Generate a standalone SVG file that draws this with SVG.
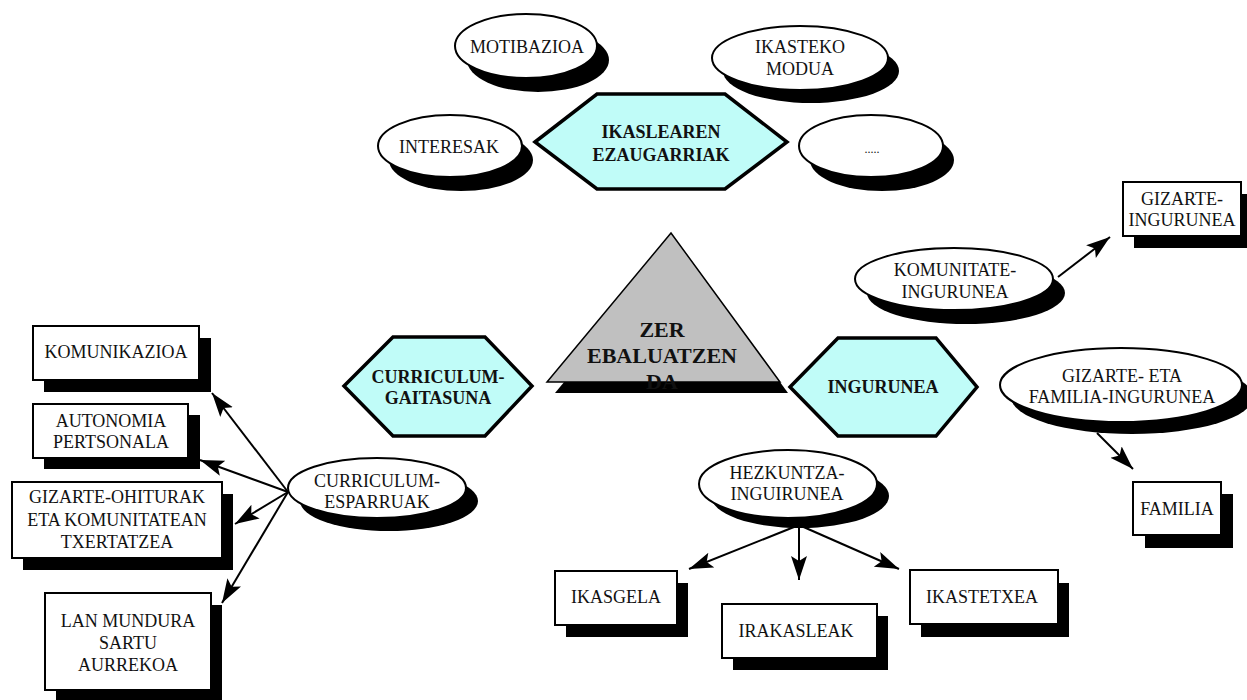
<svg xmlns="http://www.w3.org/2000/svg" width="1247" height="700" viewBox="0 0 1247 700">
<defs>
<style>
text{font-family:"Liberation Serif","Times New Roman",serif;font-size:18px;fill:#111;text-anchor:middle}
.b{font-weight:bold}
.hex{fill:#c0fcf8;stroke:#000;stroke-width:3.5;stroke-linejoin:miter}
.ell{fill:#fff;stroke:#000;stroke-width:2}
.box{fill:#fff;stroke:#000;stroke-width:2}
.sh{fill:#000}
.con line{stroke:#000;stroke-width:2}
</style>
<marker id="ah" markerUnits="userSpaceOnUse" markerWidth="26" markerHeight="18" refX="24" refY="8" orient="auto">
<path d="M0,0 L24,8 L0,16 L5,8 z" fill="#000"/>
</marker>
</defs>
<rect width="1247" height="700" fill="#fff"/>

<g id="n-motibazioa">
<ellipse class="sh" cx="538" cy="60" rx="71" ry="32"/>
<ellipse class="ell" cx="526" cy="46" rx="71" ry="32"/>
<text x="527" y="53">MOTIBAZIOA</text>
</g>
<g id="n-ikasteko">
<ellipse class="sh" cx="811" cy="71" rx="88" ry="32"/>
<ellipse class="ell" cx="800" cy="58" rx="88" ry="32"/>
<text x="800" y="53">IKASTEKO</text>
<text x="800" y="75">MODUA</text>
</g>
<g id="n-interesak">
<ellipse class="sh" cx="461" cy="160" rx="72" ry="31"/>
<ellipse class="ell" cx="450" cy="146" rx="72" ry="31"/>
<text x="449" y="153">INTERESAK</text>
</g>
<g id="n-dots">
<ellipse class="sh" cx="882" cy="160" rx="72" ry="31"/>
<ellipse class="ell" cx="871" cy="146" rx="72" ry="31"/>
<text x="872" y="153" style="font-size:12px">.....</text>
</g>
<g id="n-ikaslearen">
<polygon class="hex" points="535,142 597,94 725,94 787,142 725,189 597,189"/>
<text class="b" x="661" y="138">IKASLEAREN</text>
<text class="b" x="661" y="161">EZAUGARRIAK</text>
</g>

<g id="n-zer">
<polygon class="sh" points="679,244 788,393 555,393"/>
<polygon points="671,233 780,382 547,382" fill="#c0c0c0" stroke="#000" stroke-width="1.5"/>
<text class="b" x="662" y="337" style="font-size:22px">ZER</text>
<text class="b" x="662" y="363" style="font-size:22px">EBALUATZEN</text>
<text class="b" x="662" y="389" style="font-size:22px">DA</text>
</g>

<g id="n-curriculum-gaitasuna">
<polygon class="hex" points="344,386 393,337 485,337 532,386 485,436 393,436"/>
<text class="b" x="438" y="383">CURRICULUM-</text>
<text class="b" x="438" y="404">GAITASUNA</text>
</g>
<g id="n-ingurunea">
<polygon class="hex" points="790,387 838,338 936,338 977,387 936,436 838,436"/>
<text class="b" x="883" y="393">INGURUNEA</text>
</g>

<g id="n-komunitate">
<ellipse class="sh" cx="966" cy="293" rx="99" ry="31"/>
<ellipse class="ell" cx="954" cy="279" rx="99" ry="31"/>
<text x="955" y="276">KOMUNITATE-</text>
<text x="955" y="298">INGURUNEA</text>
</g>
<g id="n-gizarte-ingurunea">
<rect class="sh" x="1134" y="194" width="118" height="54"/>
<rect class="box" x="1123" y="182" width="118" height="54"/>
<text x="1182" y="205">GIZARTE-</text>
<text x="1182" y="226">INGURUNEA</text>
</g>
<g id="n-gizarte-familia">
<ellipse class="sh" cx="1132" cy="397" rx="121" ry="37"/>
<ellipse class="ell" cx="1121" cy="385" rx="121" ry="37"/>
<text x="1122" y="382">GIZARTE- ETA</text>
<text x="1122" y="403">FAMILIA-INGURUNEA</text>
</g>
<g id="n-familia">
<rect class="sh" x="1145" y="494" width="88" height="54"/>
<rect class="box" x="1133" y="482" width="88" height="53"/>
<text x="1177" y="515">FAMILIA</text>
</g>

<g id="n-hezkuntza">
<ellipse class="sh" cx="800" cy="496" rx="89" ry="32"/>
<ellipse class="ell" cx="788" cy="484" rx="89" ry="34"/>
<text x="787" y="479">HEZKUNTZA-</text>
<text x="787" y="500">INGUIRUNEA</text>
</g>
<g id="n-ikasgela">
<rect class="sh" x="566" y="583" width="122" height="54"/>
<rect class="box" x="555" y="571" width="122" height="54"/>
<text x="616" y="603">IKASGELA</text>
</g>
<g id="n-irakasleak">
<rect class="sh" x="733" y="616" width="155" height="54"/>
<rect class="box" x="722" y="604" width="155" height="54"/>
<text x="796" y="637">IRAKASLEAK</text>
</g>
<g id="n-ikastetxea">
<rect class="sh" x="921" y="583" width="148" height="54"/>
<rect class="box" x="910" y="570" width="148" height="54"/>
<text x="982" y="603">IKASTETXEA</text>
</g>

<g id="n-curriculum-esparruak">
<ellipse class="sh" cx="389" cy="501" rx="89" ry="30"/>
<ellipse class="ell" cx="377" cy="488" rx="89" ry="30"/>
<text x="377" y="487">CURRICULUM-</text>
<text x="377" y="508">ESPARRUAK</text>
</g>
<g id="n-komunikazioa">
<rect class="sh" x="44" y="338" width="167" height="54"/>
<rect class="box" x="33" y="326" width="166" height="54"/>
<text x="116" y="358">KOMUNIKAZIOA</text>
</g>
<g id="n-autonomia">
<rect class="sh" x="44" y="415" width="156" height="54"/>
<rect class="box" x="33" y="404" width="155" height="54"/>
<text x="111" y="427">AUTONOMIA</text>
<text x="111" y="448">PERTSONALA</text>
</g>
<g id="n-gizarte-ohiturak">
<rect class="sh" x="23" y="494" width="210" height="76"/>
<rect class="box" x="12" y="482" width="210" height="76"/>
<text x="117" y="503">GIZARTE-OHITURAK</text>
<text x="117" y="526">ETA KOMUNITATEAN</text>
<text x="117" y="548">TXERTATZEA</text>
</g>
<g id="n-lan-mundura">
<rect class="sh" x="56" y="605" width="166" height="98"/>
<rect class="box" x="45" y="593" width="166" height="97"/>
<text x="128" y="627">LAN MUNDURA</text>
<text x="128" y="649">SARTU</text>
<text x="128" y="671">AURREKOA</text>
</g>

<g id="connectors" class="con">
<line x1="1058" y1="277" x2="1110" y2="237" marker-end="url(#ah)"/>
<line x1="1097" y1="433" x2="1133" y2="469" marker-end="url(#ah)"/>
<line x1="799" y1="525" x2="689" y2="569" marker-end="url(#ah)"/>
<line x1="799" y1="525" x2="799" y2="580" marker-end="url(#ah)"/>
<line x1="799" y1="525" x2="899" y2="569" marker-end="url(#ah)"/>
<line x1="288" y1="492" x2="212" y2="393" marker-end="url(#ah)"/>
<line x1="288" y1="492" x2="200" y2="460" marker-end="url(#ah)"/>
<line x1="288" y1="492" x2="235" y2="524" marker-end="url(#ah)"/>
<line x1="288" y1="492" x2="222" y2="603" marker-end="url(#ah)"/>
</g>
</svg>
